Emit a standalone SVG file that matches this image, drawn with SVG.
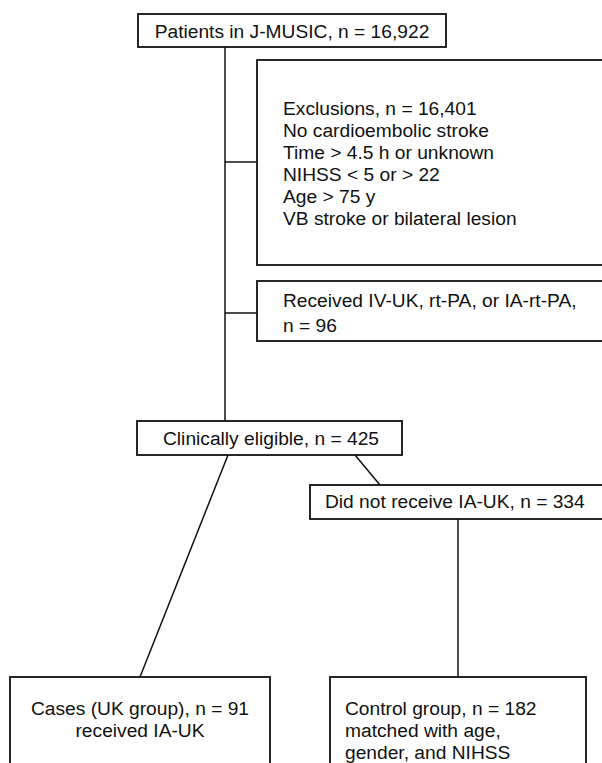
<svg xmlns="http://www.w3.org/2000/svg" width="602" height="763" viewBox="0 0 602 763">
<style>
.box{fill:#fff;stroke:#111;stroke-width:1.8}
.ln{stroke:#111;stroke-width:1.5;fill:none}
text{font-family:"Liberation Sans",Arial,sans-serif;font-size:19.2px;fill:#111}
.c{text-anchor:middle}
</style>
<rect width="602" height="763" fill="#fff"/>
<g id="connectors">
<line class="ln" x1="225" y1="47" x2="225" y2="421"/>
<line class="ln" x1="225" y1="162" x2="257" y2="162"/>
<line class="ln" x1="225" y1="313" x2="257" y2="313"/>
<line class="ln" x1="228" y1="455" x2="140" y2="677"/>
<line class="ln" x1="355" y1="455" x2="380" y2="485"/>
<line class="ln" x1="458" y1="519" x2="458" y2="677"/>
</g>
<g id="patients">
<rect class="box" x="138" y="14" width="308" height="33"/>
<text class="c" x="292" y="38">Patients in J-MUSIC, n = 16,922</text>
</g>
<g id="exclusions">
<rect class="box" x="257" y="60" width="360" height="205"/>
<text x="283" y="115">Exclusions, n = 16,401</text>
<text x="283" y="137">No cardioembolic stroke</text>
<text x="283" y="159">Time &gt; 4.5 h or unknown</text>
<text x="283" y="181">NIHSS &lt; 5 or &gt; 22</text>
<text x="283" y="203">Age &gt; 75 y</text>
<text x="283" y="225">VB stroke or bilateral lesion</text>
</g>
<g id="received">
<rect class="box" x="257" y="281" width="360" height="60"/>
<text x="283" y="307">Received IV-UK, rt-PA, or IA-rt-PA,</text>
<text x="283" y="332">n = 96</text>
</g>
<g id="eligible">
<rect class="box" x="137" y="421" width="265" height="34"/>
<text class="c" x="271" y="445">Clinically eligible, n = 425</text>
</g>
<g id="notreceive">
<rect class="box" x="310" y="485" width="307" height="34"/>
<text x="325" y="508">Did not receive IA-UK, n = 334</text>
</g>
<g id="cases">
<rect class="box" x="10" y="677" width="260" height="100"/>
<text class="c" x="140" y="715">Cases (UK group), n = 91</text>
<text class="c" x="140" y="737">received IA-UK</text>
</g>
<g id="control">
<rect class="box" x="330" y="677" width="256" height="100"/>
<text x="345" y="715">Control group, n = 182</text>
<text x="345" y="737">matched with age,</text>
<text x="345" y="759">gender, and NIHSS</text>
</g>
</svg>
